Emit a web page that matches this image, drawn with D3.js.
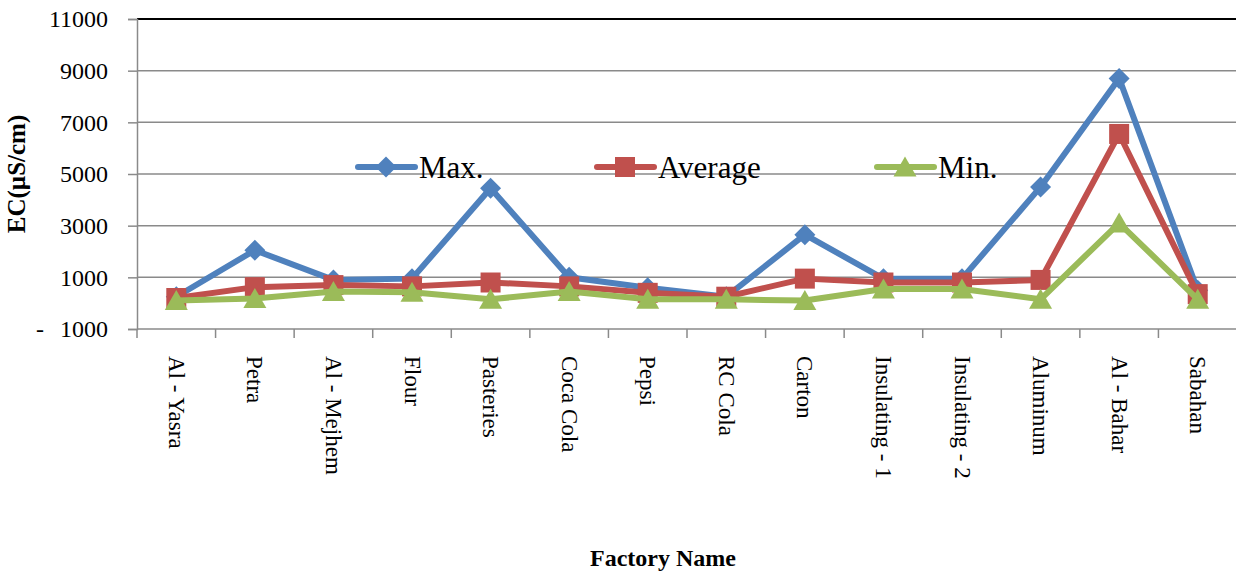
<!DOCTYPE html>
<html>
<head>
<meta charset="utf-8">
<script src="https://cdn.jsdelivr.net/npm/d3@7"></script>
<style>
  html, body { margin: 0; padding: 0; background: #fff; }
  svg { display: block; }
  text { font-family: "Liberation Serif", "Times New Roman", serif; fill: #000; }
</style>
</head>
<body>
<svg id="chart" width="1236" height="572"></svg>
<script>
// Electrical conductivity by factory
const factories = ["Al - Yasra", "Petra", "Al - Mejhem", "Flour", "Pasteries", "Coca Cola", "Pepsi",
  "RC Cola", "Carton", "Insulating - 1", "Insulating - 2", "Aluminum", "Al - Bahar", "Sabahan"];
const maxEC = [250, 2050, 900, 950, 4450, 1000, 600, 250, 2650, 950, 950, 4500, 8700, 500];
const avgEC = [200, 620, 700, 650, 800, 650, 400, 250, 950, 800, 800, 900, 6550, 350];
const minEC = [100, 180, 450, 420, 150, 450, 150, 150, 100, 550, 550, 150, 3100, 150];
const yTicks = [-1000, 1000, 3000, 5000, 7000, 9000, 11000];
const seriesNames = ["Max.", "Average", "Min."];

const svg = d3.select("#chart");
const plotLeft = 137, plotRight = 1237, plotTop = 19, plotBottom = 329;

const x = d3.scaleBand().domain(factories).range([plotLeft, plotRight]).paddingInner(0).paddingOuter(0);
const y = d3.scaleLinear().domain([-1000, 11000]).range([plotBottom, plotTop]);
const cx = d => x(d) + x.bandwidth() / 2;

// horizontal gridlines
svg.append("g").selectAll("line")
  .data(yTicks.filter(v => v > -1000))
  .join("line")
  .attr("x1", plotLeft).attr("x2", plotRight)
  .attr("y1", d => y(d)).attr("y2", d => y(d))
  .attr("stroke", d => d === 11000 ? "#000" : "#8a8a8a")
  .attr("stroke-width", d => d === 11000 ? 2 : 1.5);

// y axis
const yAxis = svg.append("g")
  .attr("transform", `translate(${plotLeft},0)`)
  .call(d3.axisLeft(y).tickValues(yTicks).tickSize(9).tickPadding(20)
    .tickFormat(d => String(Math.abs(d))));
yAxis.select(".domain").attr("stroke", "#8a8a8a").attr("stroke-width", 1.5);
yAxis.selectAll(".tick line").attr("stroke", "#8a8a8a").attr("stroke-width", 1.5);
yAxis.selectAll(".tick text")
  .attr("font-family", "Liberation Serif, serif")
  .attr("font-size", 24)
  .attr("fill", "#000");
yAxis.selectAll(".tick").filter(d => d < 0)
  .append("text")
  .attr("x", -(plotLeft - 40))
  .attr("dy", "0.32em")
  .attr("text-anchor", "middle")
  .attr("font-family", "Liberation Serif, serif")
  .attr("font-size", 24)
  .attr("fill", "#000")
  .text("-");

// x axis line and category separators
const xg = svg.append("g");
xg.append("line")
  .attr("x1", plotLeft).attr("x2", plotRight)
  .attr("y1", y(-1000)).attr("y2", y(-1000))
  .attr("stroke", "#8a8a8a").attr("stroke-width", 1.5);
xg.selectAll("line.sep")
  .data(factories)
  .join("line")
  .attr("class", "sep")
  .attr("x1", d => x(d)).attr("x2", d => x(d))
  .attr("y1", y(-1000)).attr("y2", y(-1000) + 9)
  .attr("stroke", "#8a8a8a").attr("stroke-width", 1.5);
xg.selectAll("text")
  .data(factories)
  .join("text")
  .attr("transform", d => `translate(${cx(d)},${y(-1000) + 27}) rotate(90)`)
  .attr("dy", "0.32em")
  .attr("text-anchor", "start")
  .attr("font-size", 23)
  .text(d => d);

// axis titles
svg.append("text")
  .attr("transform", `translate(25,${(plotTop + plotBottom) / 2}) rotate(-90)`)
  .attr("text-anchor", "middle")
  .attr("font-weight", "bold")
  .attr("font-size", 25)
  .text("EC(\u00b5S/cm)");
svg.append("text")
  .attr("x", 663).attr("y", 566)
  .attr("text-anchor", "middle")
  .attr("font-weight", "bold")
  .attr("font-size", 24)
  .text("Factory Name");

// series
const colors = ["#4f81bd", "#c0504d", "#9bbb59"];
const seriesVals = [maxEC, avgEC, minEC];

// marker shapes: diamond, square, triangle, centred on the point
const markerPaths = [
  "M0,-10.5L10.5,0L0,10.5L-10.5,0Z",
  "M-10,-10H10V10H-10Z",
  "M0,-10.5L11.5,9.5L-11.5,9.5Z"
];

const line = d3.line().x((v, i) => cx(factories[i])).y(v => y(v));

seriesVals.forEach((vals, si) => {
  const g = svg.append("g");
  g.append("path")
    .datum(vals)
    .attr("d", line)
    .attr("fill", "none")
    .attr("stroke", colors[si])
    .attr("stroke-width", 6)
    .attr("stroke-linejoin", "round");
  g.selectAll("path.m")
    .data(vals)
    .join("path")
    .attr("class", "m")
    .attr("transform", (v, i) => `translate(${cx(factories[i])},${y(v)})`)
    .attr("d", markerPaths[si])
    .attr("fill", colors[si]);
});

// legend
const legendX = [358, 597, 877];
const legendY = 167;
const lg = svg.append("g");
seriesNames.forEach((name, si) => {
  const gx = legendX[si];
  lg.append("line")
    .attr("x1", gx).attr("x2", gx + 57)
    .attr("y1", legendY).attr("y2", legendY)
    .attr("stroke", colors[si]).attr("stroke-width", 6)
    .attr("stroke-linecap", "round");
  lg.append("path")
    .attr("transform", `translate(${gx + 28},${legendY})`)
    .attr("d", markerPaths[si])
    .attr("fill", colors[si]);
  lg.append("text")
    .attr("x", gx + 61).attr("y", legendY + 11)
    .attr("font-size", 31)
    .text(name);
});
</script>
</body>
</html>
